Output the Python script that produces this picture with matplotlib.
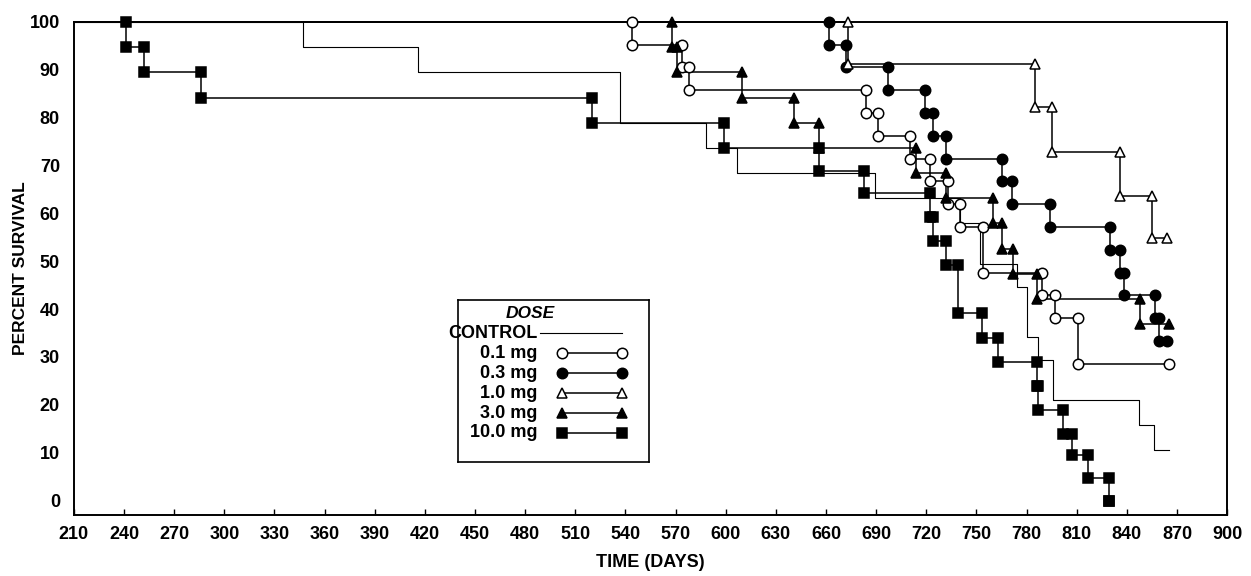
import matplotlib.pyplot as plt

plt.rcParams['font.family'] = ['Liberation Sans', 'DejaVu Sans']
plt.rcParams['font.weight'] = 'bold'

# survival curves: day of each drop and percent surviving after it
ctrl_days = [347, 416, 537, 588, 607, 689, 740, 752, 774, 780, 787, 796, 847, 856]
ctrl_surv = [94.7, 89.5, 78.9, 73.7, 68.4, 63.2, 57.9, 49.5, 44.6, 34.2, 29.4, 21.1, 15.8, 10.5]
ctrl_end = 865

d01_days = [544, 574, 578, 684, 691, 710, 722, 733, 740, 754, 789, 797, 811]
d01_surv = [95.2, 90.5, 85.7, 81.0, 76.2, 71.4, 66.7, 61.9, 57.1, 47.6, 42.9, 38.1, 28.6]
d01_end = 865

d03_days = [662, 672, 697, 719, 724, 732, 765, 771, 794, 830, 836, 838, 857, 859]
d03_surv = [95.2, 90.5, 85.7, 81.0, 76.2, 71.4, 66.7, 61.9, 57.1, 52.4, 47.6, 42.9, 38.1, 33.3]
d03_end = 864

d10_days = [673, 785, 795, 836, 855]
d10_surv = [91.3, 82.2, 72.9, 63.7, 54.8]
d10_end = 864

d30_days = [568, 571, 610, 641, 656, 714, 732, 760, 765, 772, 786, 848]
d30_surv = [94.7, 89.5, 84.2, 78.9, 73.7, 68.4, 63.2, 57.9, 52.6, 47.4, 42.1, 36.8]
d30_end = 865

d100_days = [241, 252, 286, 520, 599, 656, 683, 722, 724, 732, 739, 753, 763, 786, 787, 802, 807, 817, 829]
d100_surv = [94.7, 89.5, 84.2, 78.9, 73.7, 68.9, 64.2, 59.2, 54.2, 49.2, 39.2, 34.0, 29.0, 24.0, 19.0, 14.0, 9.5, 4.8, 0.0]
d100_end = 829

labels = ['CONTROL', '0.1 mg', '0.3 mg', '1.0 mg', '3.0 mg', '10.0 mg']
x_ticks = list(range(210, 901, 30))
y_ticks = list(range(0, 101, 10))


def km_steps(days, surv, end):
    xs, ys = [210], [100]
    prev = 100
    for t, s in zip(days, surv):
        xs += [t, t]
        ys += [prev, s]
        prev = s
    xs.append(end)
    ys.append(prev)
    return xs, ys


def km_markers(days, surv, end):
    # a marker at the top and the bottom of every drop, plus the last point
    mx, my = [], []
    prev = 100
    for t, s in zip(days, surv):
        mx += [t, t]
        my += [prev, s]
        prev = s
    mx.append(end)
    my.append(prev)
    return mx, my


fig = plt.figure(figsize=(12.51, 5.76), dpi=100)
ax = fig.add_axes([0.059, 0.106, 0.922, 0.856])

series = [
    (ctrl_days, ctrl_surv, ctrl_end, None, None, 0.8),
    (d01_days, d01_surv, d01_end, 'o', 'white', 1.1),
    (d03_days, d03_surv, d03_end, 'o', 'black', 1.1),
    (d10_days, d10_surv, d10_end, '^', 'white', 1.1),
    (d30_days, d30_surv, d30_end, '^', 'black', 1.1),
    (d100_days, d100_surv, d100_end, 's', 'black', 1.1),
]

for days, surv, end, mk, fc, lw in series:
    xs, ys = km_steps(days, surv, end)
    ax.plot(xs, ys, color='black', lw=lw, clip_on=False, zorder=2)
    if mk:
        mx, my = km_markers(days, surv, end)
        ax.plot(mx, my, ls='none', marker=mk, ms=7.5 if mk != 's' else 7,
                mfc=fc, mec='black', mew=1.1, clip_on=False, zorder=3)

ax.set_xlim(210, 900)
ax.set_ylim(-3, 100)
ax.set_xticks(x_ticks)
ax.set_yticks(y_ticks)
ax.tick_params(axis='x', direction='in', length=4, width=1, labelsize=13, pad=8)
ax.tick_params(axis='y', length=0, labelsize=13, pad=10)
for sp in ax.spines.values():
    sp.set_linewidth(1.4)

ax.set_xlabel('TIME (DAYS)', fontsize=13, fontweight='bold', labelpad=8)
ax.set_ylabel('PERCENT SURVIVAL', fontsize=12.5, fontweight='bold', labelpad=1)

# legend box
lg = fig.add_axes([0.366, 0.198, 0.153, 0.281])
lg.set_xlim(0, 1)
lg.set_ylim(0, 1)
lg.set_xticks([])
lg.set_yticks([])
for sp in lg.spines.values():
    sp.set_linewidth(1.2)
lg.text(0.377, 0.92, 'DOSE', style='italic', fontsize=12.5, ha='center', va='center')
rows = [0.796, 0.673, 0.549, 0.426, 0.302, 0.179]
for (days, surv, end, mk, fc, lw), lab, ry in zip(series, labels, rows):
    lg.text(0.414, ry, lab, fontsize=13, ha='right', va='center')
    if mk:
        lg.plot([0.545, 0.859], [ry, ry], color='black', lw=lw, marker=mk,
                ms=7.5 if mk != 's' else 7, mfc=fc, mec='black', mew=1.1)
    else:
        lg.plot([0.43, 0.859], [ry, ry], color='black', lw=lw)

fig.savefig('out.png', dpi=100)
